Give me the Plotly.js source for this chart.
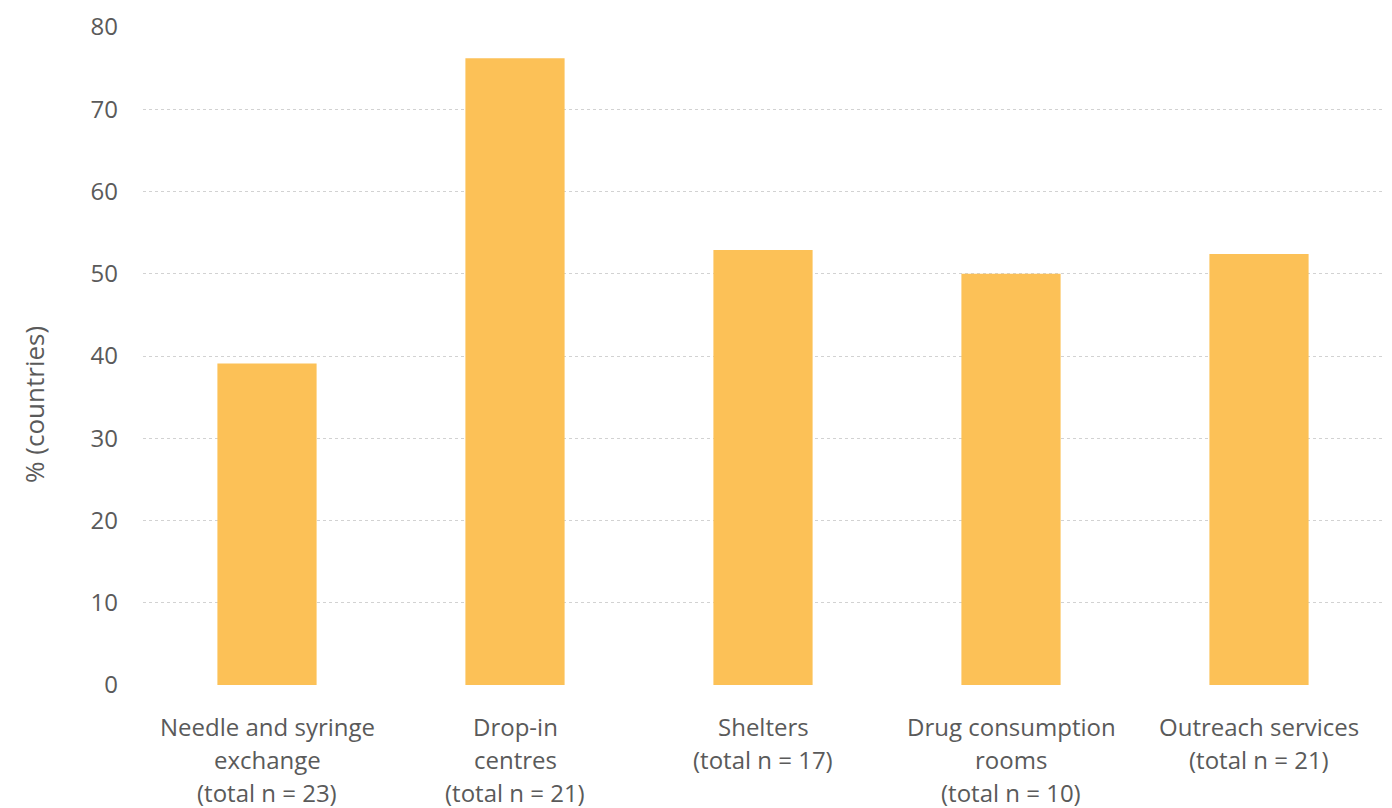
<!DOCTYPE html>
<html>
<head>
<meta charset="utf-8">
<script src="https://cdn.plot.ly/plotly-3.0.1.min.js"></script>
<style>html,body{margin:0;padding:0;background:#fff;}#chart{width:1392px;height:808px;}</style>
</head>
<body>
<div id="chart"></div>
<script>
const categories = ["Needle and syringe exchange", "Drop-in centres", "Shelters", "Drug consumption rooms", "Outreach services"];
const labelLines = [
  ["Needle and syringe", "exchange", "(total n = 23)"],
  ["Drop-in", "centres", "(total n = 21)"],
  ["Shelters", "(total n = 17)"],
  ["Drug consumption", "rooms", "(total n = 10)"],
  ["Outreach services", "(total n = 21)"]
];
const values = [39.1, 76.2, 52.9, 50.0, 52.4];
const yTicks = [0, 10, 20, 30, 40, 50, 60, 70, 80];
const yTitle = "% (countries)";

const FONT = "'Open Sans', sans-serif";
const TXT = "#5a5a5a";

const annotations = [];
labelLines.forEach((lines, ci) => {
  lines.forEach((ln, li) => {
    annotations.push({
      x: categories[ci], xref: 'x', y: 0, yref: 'paper',
      yanchor: 'middle', xanchor: 'center',
      yshift: -41 - li * 33, borderpad: 0,
      text: ln, showarrow: false,
      font: {family: FONT, size: 24, color: TXT}
    });
  });
});
annotations.push({
  x: -0.088, xref: 'paper', y: 0.427, yref: 'paper',
  xanchor: 'center', yanchor: 'middle', textangle: -90,
  text: yTitle, showarrow: false, borderpad: 0,
  font: {family: FONT, size: 26, color: TXT}
});

const data = [{
  type: 'bar', x: categories, y: values,
  marker: {color: '#FCC157'},
  hoverinfo: 'x+y'
}];

const layout = {
  width: 1392, height: 808,
  margin: {l: 143, r: 9, t: 27, b: 123},
  paper_bgcolor: '#fff', plot_bgcolor: '#fff',
  bargap: 0.6,
  showlegend: false,
  font: {family: FONT, color: TXT, size: 24},
  xaxis: {showticklabels: false, showgrid: false, zeroline: false, showline: false, ticks: ''},
  yaxis: {
    range: [0, 80], tickvals: yTicks, ticktext: yTicks.map(String),
    showgrid: true, gridcolor: '#d2d2d2', griddash: 'dot', gridwidth: 1,
    zeroline: false, showline: false, ticks: '',
    ticklabelstandoff: 24,
    tickfont: {family: FONT, size: 24, color: TXT}
  },
  annotations: annotations
};

Plotly.newPlot('chart', data, layout, {displayModeBar: false, staticPlot: true});
</script>
</body>
</html>
